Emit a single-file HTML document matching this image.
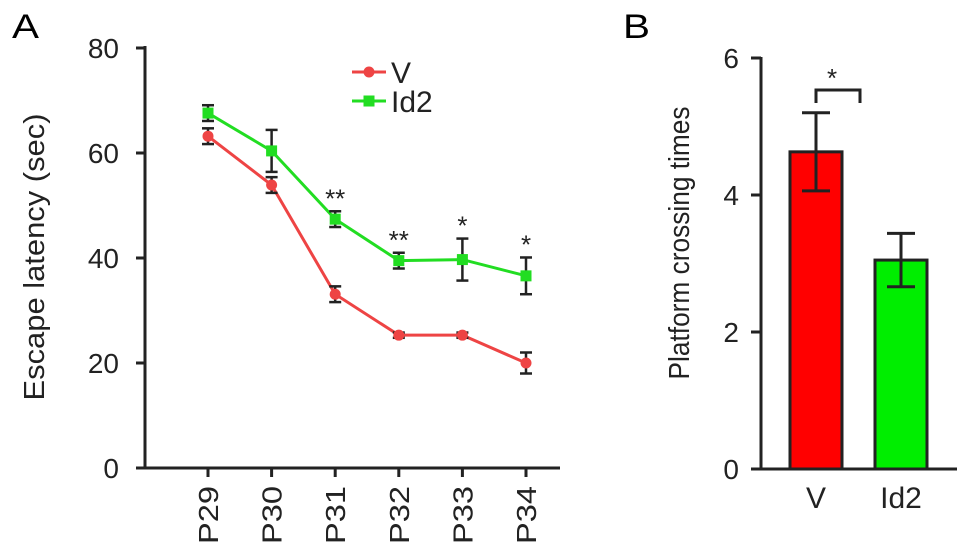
<!DOCTYPE html>
<html><head><meta charset="utf-8"><style>
body{margin:0;background:#fff;}
svg{display:block;font-family:"Liberation Sans",Arial,sans-serif;}
</style></head><body>
<svg id="chart" width="969" height="556" viewBox="0 0 969 556" xmlns="http://www.w3.org/2000/svg">
<text x="12" y="38" font-size="34" textLength="27" lengthAdjust="spacingAndGlyphs">A</text>
<text x="623" y="38" font-size="34" textLength="27" lengthAdjust="spacingAndGlyphs">B</text>
<g id="A"></g>
<g id="B"></g>
</svg>
<script>
const days = ["P29","P30","P31","P32","P33","P34"];
const vMean = [63.2, 53.9, 33.1, 25.3, 25.3, 20.0];
const vErr = [1.5, 1.5, 1.5, 0.5, 0.5, 2.0];
const idMean = [67.6, 60.4, 47.4, 39.5, 39.7, 36.6];
const idErr = [1.5, 4.0, 1.5, 1.5, 4.0, 3.5];
const sigMarks = ["", "", "**", "**", "*", "*"];
const yTicksA = [0, 20, 40, 60, 80];
const groups = ["V","Id2"];
const barMean = [4.63, 3.05];
const barErr = [0.57, 0.39];
const yTicksB = [0, 2, 4, 6];

const NS="http://www.w3.org/2000/svg";
function mk(parent, tag, attrs, text){
  const e=document.createElementNS(NS,tag);
  for(const k in attrs) e.setAttribute(k,attrs[k]);
  if(text!==undefined) e.textContent=text;
  parent.appendChild(e); return e;
}
const INK='#222';
// Panel A
const A=document.getElementById('A');
const ya=v=>468-v*5.25;
const xa=i=>208+i*63.6;
let e=mk(A,'line',{x1:145,y1:46,x2:145,y2:468,stroke:INK,'stroke-width':3});
 
e=mk(A,'line',{x1:136,y1:468,x2:560,y2:468,stroke:INK,'stroke-width':3});
 
yTicksA.forEach(t=>{
  mk(A,'line',{x1:136,y1:ya(t),x2:145,y2:ya(t),stroke:INK,'stroke-width':3});
  e=mk(A,'text',{x:119,y:ya(t)+10,'font-size':28,'text-anchor':'end',fill:INK},t);
   
});
days.forEach((d,i)=>{
  mk(A,'line',{x1:xa(i),y1:468,x2:xa(i),y2:477,stroke:INK,'stroke-width':3});
  e=mk(A,'text',{x:0,y:0,'font-size':28,'text-anchor':'end',fill:INK,textLength:58,lengthAdjust:'spacingAndGlyphs',transform:`translate(${xa(i)+10},486) rotate(-90)`},d);
   
});
e=mk(A,'text',{x:0,y:0,'font-size':29,'text-anchor':'middle',fill:INK,textLength:287,lengthAdjust:'spacingAndGlyphs',transform:'translate(44,257) rotate(-90)'},'Escape latency (sec)');
 
function series(mean,err,color,name,marker){
  const pts=mean.map((v,i)=>xa(i)+','+ya(v)).join(' ');
  let l=mk(A,'polyline',{points:pts,fill:'none',stroke:color,'stroke-width':3});
   
  mean.forEach((v,i)=>{
    const x=xa(i);
    mk(A,'line',{x1:x,y1:ya(v+err[i]),x2:x,y2:ya(v-err[i]),stroke:INK,'stroke-width':2.5});
    mk(A,'line',{x1:x-6,y1:ya(v+err[i]),x2:x+6,y2:ya(v+err[i]),stroke:INK,'stroke-width':2.5});
    mk(A,'line',{x1:x-6,y1:ya(v-err[i]),x2:x+6,y2:ya(v-err[i]),stroke:INK,'stroke-width':2.5});
    let m = marker==='c'? mk(A,'circle',{cx:x,cy:ya(v),r:5.5,fill:color}) : mk(A,'rect',{x:x-5.5,y:ya(v)-5.5,width:11,height:11,fill:color});
     
  });
}
series(vMean,vErr,'#ee4444','v','c');
series(idMean,idErr,'#22dd22','id2','s');
sigMarks.forEach((s,i)=>{
  if(!s) return;
  e=mk(A,'text',{x:xa(i),y:ya(idMean[i]+idErr[i])-4,'font-size':26,'text-anchor':'middle',fill:INK},s);
   
});
// legend
e=mk(A,'g',{});  
mk(e,'line',{x1:352,y1:72,x2:386,y2:72,stroke:'#ee4444','stroke-width':3});
mk(e,'circle',{cx:369,cy:72,r:5.5,fill:'#ee4444'});
mk(e,'text',{x:391,y:83,'font-size':30,fill:INK},'V');
mk(e,'line',{x1:352,y1:101,x2:386,y2:101,stroke:'#22dd22','stroke-width':3});
mk(e,'rect',{x:363.5,y:95.5,width:11,height:11,fill:'#22dd22'});
mk(e,'text',{x:391,y:112,'font-size':30,fill:INK},'Id2');
// Panel B
const B=document.getElementById('B');
const yb=v=>469-v*68.5;
const xb=i=>816+i*85;
e=mk(B,'line',{x1:761,y1:57,x2:761,y2:469,stroke:INK,'stroke-width':3});
 
e=mk(B,'line',{x1:751,y1:469,x2:957,y2:469,stroke:INK,'stroke-width':3});
 
yTicksB.forEach(t=>{
  mk(B,'line',{x1:751,y1:yb(t),x2:761,y2:yb(t),stroke:INK,'stroke-width':3});
  e=mk(B,'text',{x:739,y:yb(t)+10,'font-size':28,'text-anchor':'end',fill:INK},t);
   
});
e=mk(B,'text',{x:0,y:0,'font-size':29,'text-anchor':'middle',fill:INK,textLength:273,lengthAdjust:'spacingAndGlyphs',transform:'translate(689,243) rotate(-90)'},'Platform crossing times');
 
const cols=['#ff0000','#00ee00'];
groups.forEach((g,i)=>{
  const x=xb(i), v=barMean[i], er=barErr[i];
  let r=mk(B,'rect',{x:x-26,y:yb(v),width:52,height:469-yb(v),fill:cols[i],stroke:INK,'stroke-width':3});
   
  mk(B,'line',{x1:x,y1:yb(v+er),x2:x,y2:yb(v-er),stroke:INK,'stroke-width':3});
  mk(B,'line',{x1:x-14,y1:yb(v+er),x2:x+14,y2:yb(v+er),stroke:INK,'stroke-width':3});
  mk(B,'line',{x1:x-14,y1:yb(v-er),x2:x+14,y2:yb(v-er),stroke:INK,'stroke-width':3});
  e=mk(B,'text',{x:x,y:508,'font-size':30,'text-anchor':'middle',fill:INK},g);
   
});
e=mk(B,'path',{d:'M816,103 L816,90 L860,90 L860,103',fill:'none',stroke:INK,'stroke-width':3});
 
e=mk(B,'text',{x:832,y:87,'font-size':26,'text-anchor':'middle',fill:INK},'*');
 
</script>
</body></html>
